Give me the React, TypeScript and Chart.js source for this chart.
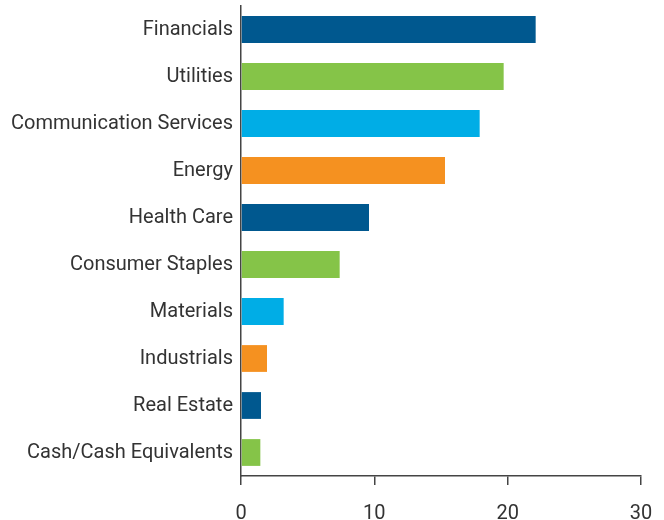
import React, { useEffect, useRef } from "react";
import { Chart, registerables } from "chart.js";

Chart.register(...registerables);

const categories = [
  "Financials",
  "Utilities",
  "Communication Services",
  "Energy",
  "Health Care",
  "Consumer Staples",
  "Materials",
  "Industrials",
  "Real Estate",
  "Cash/Cash Equivalents",
];
const values = [22.1, 19.7, 17.9, 15.3, 9.6, 7.4, 3.2, 1.95, 1.5, 1.45];
const barColors = [
  "#00588F",
  "#85C448",
  "#00ADE6",
  "#F59120",
  "#00588F",
  "#85C448",
  "#00ADE6",
  "#F59120",
  "#00588F",
  "#85C448",
];
const xTicks = [0, 10, 20, 30];

export default function App() {
  const ref = useRef<HTMLCanvasElement | null>(null);
  useEffect(() => {
    if (!ref.current) return;
    const chart = new Chart(ref.current, {
      type: "bar",
      data: {
        labels: categories,
        datasets: [
          {
            data: values,
            backgroundColor: barColors,
            borderWidth: 0,
            barPercentage: 0.57,
            categoryPercentage: 1,
          },
        ],
      },
      options: {
        indexAxis: "y",
        animation: false,
        responsive: false,
        maintainAspectRatio: false,
        layout: { padding: { top: 6, right: 23, left: 0, bottom: 0 } },
        plugins: { legend: { display: false }, tooltip: { enabled: false } },
        scales: {
          x: {
            min: 0,
            max: 30,
            afterBuildTicks: (s: any) => {
              s.ticks = xTicks.map((v) => ({ value: v }));
            },
            afterFit: (s: any) => {
              s.height = 44;
              s.paddingLeft = 0;
              s.paddingRight = 0;
            },
            grid: {
              drawOnChartArea: false,
              drawTicks: true,
              tickLength: 9,
              color: "#444",
              lineWidth: 1.5,
            },
            border: { display: true, color: "#444", width: 1.5 },
            ticks: {
              color: "#333",
              font: { family: "Roboto", size: 20 },
              padding: 17,
              maxRotation: 0,
            },
          },
          y: {
            afterFit: (s: any) => {
              s.width = 241;
              s.paddingTop = 0;
              s.paddingBottom = 0;
            },
            grid: { display: false, drawTicks: false },
            border: { display: true, color: "#444", width: 1.5 },
            ticks: {
              color: "#333",
              font: { family: "Roboto", size: 20 },
              padding: 8,
              autoSkip: false,
            },
          },
        },
      },
    });
    return () => chart.destroy();
  }, []);
  return (
    <div style={{ position: "fixed", left: 0, top: 0, width: 664, height: 520, background: "#fff" }}>
      <canvas ref={ref} width={664} height={520} style={{ width: 664, height: 520 }} />
    </div>
  );
}
